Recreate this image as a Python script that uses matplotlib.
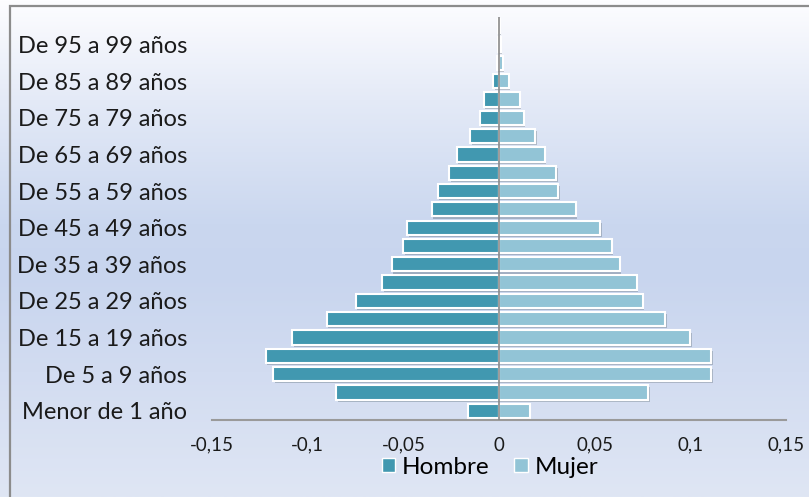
import matplotlib.pyplot as plt
import matplotlib.patheffects as pe
import numpy as np
from matplotlib.colors import LinearSegmentedColormap
from matplotlib.patches import Rectangle, Patch

plt.rcParams['font.family'] = ['Lato', 'DejaVu Sans']

edades = ["Menor de 1 año", "De 1 a 4 años", "De 5 a 9 años", "De 10 a 14 años",
          "De 15 a 19 años", "De 20 a 24 años", "De 25 a 29 años", "De 30 a 34 años",
          "De 35 a 39 años", "De 40 a 44 años", "De 45 a 49 años", "De 50 a 54 años",
          "De 55 a 59 años", "De 60 a 64 años", "De 65 a 69 años", "De 70 a 74 años",
          "De 75 a 79 años", "De 80 a 84 años", "De 85 a 89 años", "De 90 a 94 años",
          "De 95 a 99 años", "De 100 y más años"]
hombre = [-0.016, -0.085, -0.118, -0.122, -0.108, -0.090, -0.075, -0.061,
          -0.056, -0.050, -0.048, -0.035, -0.032, -0.026, -0.022, -0.015,
          -0.010, -0.008, -0.003, -0.001, -0.0005, -0.0003]
mujer = [0.016, 0.078, 0.111, 0.111, 0.100, 0.087, 0.075, 0.072,
         0.063, 0.059, 0.053, 0.040, 0.031, 0.030, 0.024, 0.019,
         0.013, 0.011, 0.005, 0.002, 0.001, 0.0005]
ticks_x = [-0.15, -0.1, -0.05, 0, 0.05, 0.1, 0.15]

c_h = '#4198b0'
c_m = '#92c4d6'

fig = plt.figure(figsize=(8.09, 4.97), dpi=100)

# fondo degradado
bg = fig.add_axes([0, 0, 1, 1], zorder=-2)
cmap = LinearSegmentedColormap.from_list(
    'fondo', [(0, '#fdfdff'), (0.2, '#e4eaf7'), (0.45, '#cad7ef'),
              (0.55, '#c8d5ee'), (0.75, '#d2dcf1'), (1, '#dfe6f4')])
bg.imshow(np.linspace(0, 1, 256).reshape(-1, 1), aspect='auto', cmap=cmap,
          extent=[0, 1, 1, 0])
bg.set_xlim(0, 1)
bg.set_ylim(1, 0)
bg.axis('off')
bg.add_patch(Rectangle((10 / 809, -0.1), 1.2, 1.1 - 6 / 497, fill=False,
                       edgecolor='#8c8c8c', linewidth=1.6, transform=bg.transAxes))

ax = fig.add_axes([212 / 809, 77 / 497, 574 / 809, 403 / 497])
ax.patch.set_alpha(0)

y = np.arange(len(edades))
sombra = [pe.SimplePatchShadow(offset=(1, -1.5), alpha=0.25), pe.Normal()]
ax.barh(y, hombre, height=0.78, color=c_h, edgecolor='white', linewidth=1.5,
        path_effects=sombra, label='Hombre')
ax.barh(y, mujer, height=0.78, color=c_m, edgecolor='white', linewidth=1.5,
        path_effects=sombra, label='Mujer')

ax.axvline(0, color='#8a8a8a', linewidth=1.2, zorder=3)
ax.set_xlim(-0.15, 0.15)
ax.set_ylim(-0.5, len(edades) - 0.5)

ax.set_yticks(y[::2])
ax.set_yticklabels(edades[::2], fontsize=17, color='#1a1a1a')
ax.set_xticks(ticks_x)
ax.set_xticklabels([('%g' % t).replace('.', ',') for t in ticks_x],
                   fontsize=13.5, color='#1a1a1a')
ax.tick_params(axis='both', length=0)
ax.tick_params(axis='y', pad=18)
ax.tick_params(axis='x', pad=12)

for s in ['top', 'right', 'left']:
    ax.spines[s].set_visible(False)
ax.spines['bottom'].set_color('#9a9a9a')
ax.spines['bottom'].set_linewidth(1.5)

handles = [Patch(facecolor=c_h, edgecolor='white'), Patch(facecolor=c_m, edgecolor='white')]
fig.legend(handles, ['Hombre', 'Mujer'], loc='center', bbox_to_anchor=(490 / 809, 1 - 467 / 497),
           ncol=2, frameon=False, fontsize=17.5, handlelength=0.55, handleheight=0.55,
           handletextpad=0.3, columnspacing=1.0, borderpad=0)

fig.savefig('out.png', dpi=100)
